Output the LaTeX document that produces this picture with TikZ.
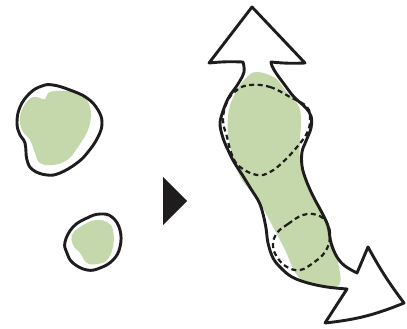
\documentclass[tikz,border=0pt]{standalone}
\begin{document}
\begin{tikzpicture}[x=1pt,y=-1pt,
  greenfill/.style={fill=leaf,draw=none},
  outline/.style={draw=ink,line width=2.9pt,line join=round,line cap=round},
  dashline/.style={draw=ink,line width=2.2pt,dash pattern=on 5pt off 3.5pt}]
\definecolor{leaf}{RGB}{197,216,172}
\definecolor{ink}{RGB}{30,28,29}
\useasboundingbox (0,0) rectangle (407,329);
% big left blob
\path[greenfill] plot[smooth cycle,tension=0.7] coordinates {(50,92) (66,91) (80,93) (90,107) (89,127) (78,147) (67,160) (53,165) (40,163) (35,153) (30,140) (22,130) (20,117) (25,104) (33,97) (40,98) (45,99)};
\draw[outline] plot[smooth cycle,tension=0.7] coordinates {(42,86) (53,85) (70,90) (87,98) (98,110) (102,123) (98,137) (88,152) (77,163) (60,173) (47,175) (33,170) (27,160) (25,143) (20,135) (17,123) (20,107) (30,93)};
% small blob
\path[greenfill] plot[smooth cycle,tension=0.7] coordinates {(73,233) (87,223) (97,220) (107,222) (113,230) (113,247) (107,260) (97,264) (87,263) (80,253) (73,245)};
\draw[outline] plot[smooth cycle,tension=0.7] coordinates {(65,242) (73,227) (87,218) (100,214) (112,217) (120,230) (120,247) (113,260) (100,268) (87,270) (73,263) (67,253)};
% triangle
\fill[ink] (163,177) -- (187,201) -- (163,225) -- cycle;
% green body of big shape
\path[greenfill] plot[smooth cycle,tension=0.7] coordinates {(257,72) (275,78) (285,90) (298,105) (301,120) (300,140) (300,160) (304,178) (312,195) (325,215) (332,240) (338,262) (339,285) (320,286) (305,282) (295,272) (285,250) (272,225) (258,200) (242,180) (234,160) (228,135) (229,110) (236,92) (246,78)};
% dashed loops
\draw[dashline] plot[smooth cycle,tension=0.7] coordinates {(250,85) (270,87) (290,97) (307,107) (310,120) (307,133) (297,147) (283,162) (270,172) (257,175) (240,167) (232,155) (227,137) (223,120) (227,102) (237,90)};
\draw[dashline] plot[smooth cycle,tension=0.7] coordinates {(277,233) (288,224) (303,215) (317,215) (327,223) (330,237) (325,252) (313,263) (300,270) (287,267) (277,257) (273,245)};
% outline of arrow shape
\draw[outline] (252,7) -- (209,63) to[bend left=4] (243,62)
  -- plot[smooth,tension=0.6] coordinates {(243,62) (244,72) (238,84) (229,97) (223,111) (220,124) (223,138) (228,150) (234,162) (243,176) (251,189) (259,202) (263,214) (266,228) (268,243) (273,258) (281,268) (292,277) (308,283) (327,287) (347,289)}
  -- (325,323) to[bend right=8] (404,303) to[bend left=4] (368,247) -- (357,273)
  -- plot[smooth,tension=0.6] coordinates {(357,273) (345,266) (337,257) (331,243) (328,226) (321,211) (313,196) (306,180) (302,166) (302,152) (306,141) (311,128) (311,116) (305,107) (294,97) (284,84) (276,73) (272,66) (271,62)}
  to[bend right=4] (305,63) -- cycle;
\end{tikzpicture}
\end{document}
